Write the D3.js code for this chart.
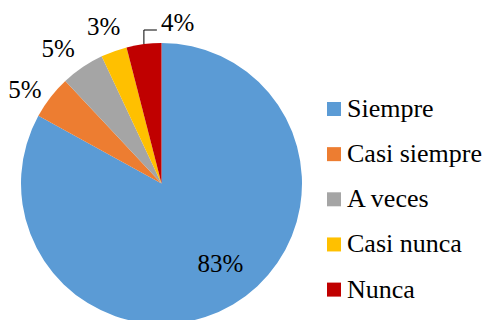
<!DOCTYPE html>
<html>
<head>
<meta charset="utf-8">
<script src="https://cdn.jsdelivr.net/npm/d3@7/dist/d3.min.js"></script>
<style>
  html, body { margin: 0; padding: 0; background: #fff; }
  svg { display: block; }
</style>
</head>
<body>
<svg id="chart" width="488" height="320"></svg>
<script>
// Survey answers and their shares (%)
const categories = ["Siempre", "Casi siempre", "A veces", "Casi nunca", "Nunca"];
const values = [83, 5, 5, 3, 4];
const colors = ["#5B9BD5", "#ED7D31", "#A5A5A5", "#FFC000", "#C00000"];
const valueLabels = values.map(v => v + "%");

const W = 488, H = 320;
const cx = 161.5, cy = 183.5, R = 140.5;
const labelFont = 25, legendFont = 26;
const fontFamily = "'Liberation Serif', 'Times New Roman', Tinos, 'Noto Serif', FreeSerif, 'DejaVu Serif', serif";

const svg = d3.select("#chart")
  .style("font-family", fontFamily);

const pie = d3.pie().value(d => d).sort(null).startAngle(0).endAngle(2 * Math.PI);
const arcs = pie(values);
const arc = d3.arc().innerRadius(0).outerRadius(R);

const g = svg.append("g").attr("transform", `translate(${cx},${cy})`);

g.selectAll("path.slice")
  .data(arcs)
  .join("path")
  .attr("class", "slice")
  .attr("d", arc)
  .attr("fill", (d, i) => colors[i]);

// polar helper: angle measured clockwise from 12 o'clock
const polar = (a, r) => [Math.sin(a) * r, -Math.cos(a) * r];
const mid = d => (d.startAngle + d.endAngle) / 2;

// label placement: inside for the big slice, outside for the small ones,
// last slice uses a short elbow leader line
const labelRadius = [99, 168, 168, 168, null];
const labelNudge = [[8.6, -5.7], [-3.8, 8.5], [-9, 4.4], [-1, 0.6], null];

arcs.forEach((d, i) => {
  const a = mid(d);
  if (labelRadius[i] !== null) {
    const [x, y] = polar(a, labelRadius[i]);
    g.append("text")
      .attr("x", x + labelNudge[i][0])
      .attr("y", y + labelNudge[i][1])
      .attr("dy", "0.34em")
      .attr("text-anchor", "middle")
      .attr("font-family", fontFamily)
      .attr("font-size", labelFont)
      .attr("fill", "#000")
      .text(valueLabels[i]);
  } else {
    const [px, py] = polar(a, R);
    const elbowY = -R - 13;
    const elbowX = px + 13;
    g.append("path")
      .attr("d", `M${px},${py}V${elbowY}H${elbowX}`)
      .attr("fill", "none")
      .attr("stroke", "#000")
      .attr("stroke-width", 1);
    g.append("text")
      .attr("x", elbowX + 4)
      .attr("y", elbowY + 1)
      .attr("font-family", fontFamily)
      .attr("font-size", labelFont)
      .attr("fill", "#000")
      .text(valueLabels[i]);
  }
});

// legend
const legX = 327, legY = 102, legStep = 45.15, sw = 14;
const leg = svg.append("g");
categories.forEach((c, i) => {
  const y = legY + i * legStep;
  leg.append("rect")
    .attr("x", legX).attr("y", y)
    .attr("width", sw).attr("height", sw)
    .attr("fill", colors[i]);
  leg.append("text")
    .attr("x", legX + 20)
    .attr("y", y + 15)
    .attr("font-family", fontFamily)
    .attr("font-size", legendFont)
    .attr("fill", "#000")
    .text(c);
});
</script>
</body>
</html>
